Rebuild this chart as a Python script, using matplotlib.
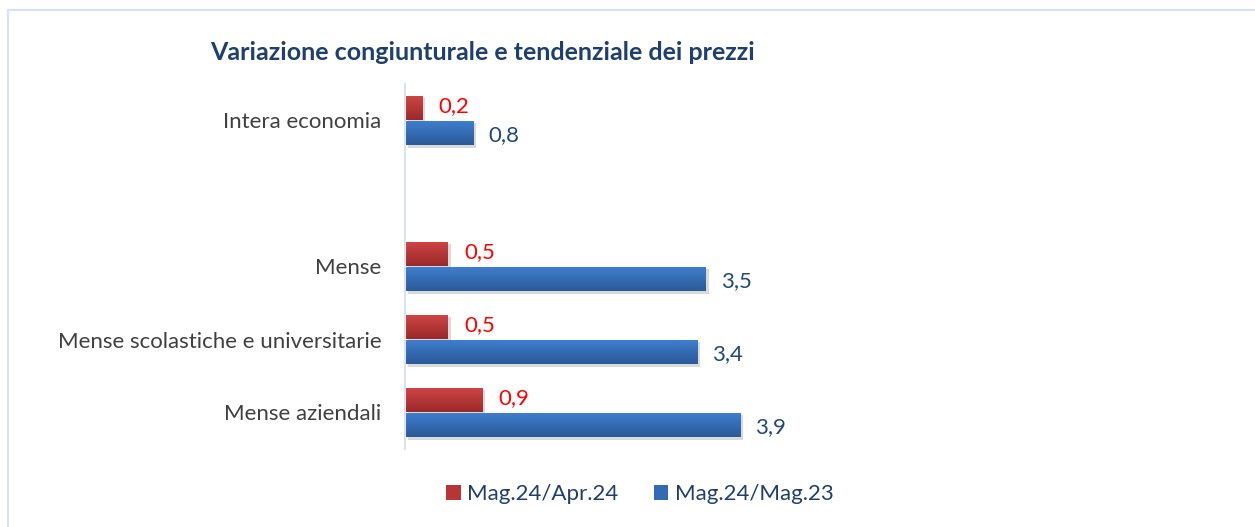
import numpy as np
import matplotlib.pyplot as plt
from matplotlib.patches import Rectangle, Patch
from matplotlib.colors import to_rgb

plt.rcParams['font.family'] = ['Lato', 'DejaVu Sans']

categories = ["Intera economia", "", "Mense", "Mense scolastiche e universitarie", "Mense aziendali"]
congiunturale = [0.2, None, 0.5, 0.5, 0.9]   # Mag.24/Apr.24
tendenziale = [0.8, None, 3.5, 3.4, 3.9]     # Mag.24/Mag.23
labels_cong = ["0,2", "", "0,5", "0,5", "0,9"]
labels_tend = ["0,8", "", "3,5", "3,4", "3,9"]

W, H = 1255, 527
fig = plt.figure(figsize=(W / 100, H / 100), dpi=100)

# cornice esterna
fig.patches.append(Rectangle((8 / W, -0.05), 1.1, (H - 10) / H + 0.05, transform=fig.transFigure,
                             fill=False, edgecolor='#d6e2f3', linewidth=1.5))

ax_l, ax_r = 405, 1165
ax_t, ax_b = 84, 449
ax = fig.add_axes([ax_l / W, 1 - ax_b / H, (ax_r - ax_l) / W, (ax_b - ax_t) / H])
ppu = 86.0
ax.set_xlim(0, (ax_r - ax_l) / ppu)
ax.set_ylim(len(categories) - 0.5, -0.5)

h = 25 / 73
red_grad = ['#d04545', '#9a2a2a']
blue_grad = ['#3f7fd0', '#2b5a98']


def grad_bar(y0, width, colors):
    rect = Rectangle((0, y0), width, h, facecolor='none', edgecolor='none')
    ax.add_patch(rect)
    shadow = Rectangle((0.03, y0 + 0.04), width, h, facecolor='#000000', alpha=0.15,
                       edgecolor='none', zorder=1)
    ax.add_patch(shadow)
    c0 = np.array(to_rgb(colors[0]))
    c1 = np.array(to_rgb(colors[1]))
    t = np.linspace(0, 1, 50)[:, None]
    img = (c0 * (1 - t) + c1 * t)[:, None, :]
    im = ax.imshow(img, extent=(0, width, y0 + h, y0), aspect='auto', zorder=2,
                   interpolation='bilinear')
    im.set_clip_path(rect)


for i, cat in enumerate(categories):
    if congiunturale[i] is None:
        continue
    grad_bar(i - h, congiunturale[i], red_grad)
    grad_bar(i, tendenziale[i], blue_grad)
    ax.text(congiunturale[i] + 16 / ppu, i - h / 2 - 0.02, labels_cong[i], color='#ff0000',
            fontsize=16, va='center', ha='left')
    ax.text(tendenziale[i] + 15 / ppu, i + h / 2 + 0.03, labels_tend[i], color='#1f497d',
            fontsize=16, va='center', ha='left')

ax.set_yticks(range(len(categories)))
ax.set_yticklabels(categories, fontsize=16, color='#404040')
ax.tick_params(axis='y', length=0, pad=17)
ax.set_xticks([])
for s in ['top', 'right', 'bottom']:
    ax.spines[s].set_visible(False)
ax.spines['left'].set_color('#d9e2f0')
ax.spines['left'].set_linewidth(1.5)

fig.text(483 / W, 1 - 52 / H, "Variazione congiunturale e tendenziale dei prezzi",
         ha='center', va='center', fontsize=18, fontweight='bold', color='#1f3f6e')

handles = [Patch(facecolor='#b83535', label='Mag.24/Apr.24'),
           Patch(facecolor='#3469b4', label='Mag.24/Mag.23')]
leg = fig.legend(handles=handles, loc='center', bbox_to_anchor=(640 / W, 1 - 494 / H), ncol=2,
                 frameon=False, fontsize=16, handlelength=0.65, handleheight=0.65,
                 handletextpad=0.3, columnspacing=1.6)
for t in leg.get_texts():
    t.set_color('#1f3f6e')

fig.savefig('out.png', dpi=100)
